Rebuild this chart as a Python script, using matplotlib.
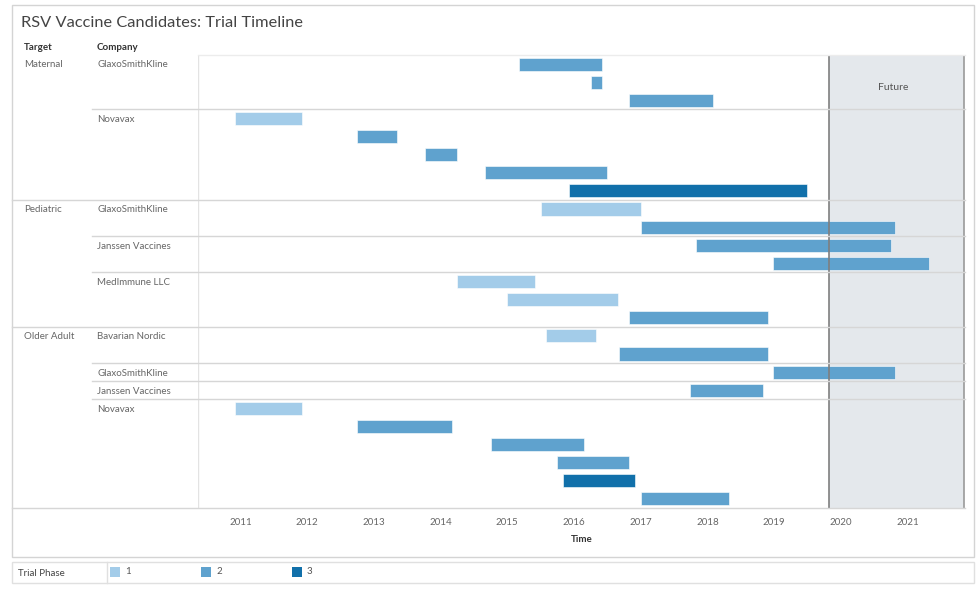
import matplotlib
matplotlib.use("Agg")
import matplotlib.pyplot as plt
from matplotlib.transforms import blended_transform_factory
from matplotlib.patches import Rectangle
from matplotlib.lines import Line2D

plt.rcParams['font.family'] = ['Lato', 'DejaVu Sans']

# ---- data ----
targets = ["Maternal"] * 8 + ["Pediatric"] * 7 + ["Older Adult"] * 10
companies = (["GlaxoSmithKline"] * 3 + ["Novavax"] * 5 +
             ["GlaxoSmithKline"] * 2 + ["Janssen Vaccines"] * 2 + ["MedImmune LLC"] * 3 +
             ["Bavarian Nordic"] * 2 + ["GlaxoSmithKline"] + ["Janssen Vaccines"] + ["Novavax"] * 6)
start_year = [2015.17, 2016.25, 2016.83,
              2010.92, 2012.75, 2013.76, 2014.67, 2015.92,
              2015.50, 2017.00,
              2017.83, 2018.99,
              2014.25, 2015.00, 2016.83,
              2015.58, 2016.67,
              2018.99,
              2017.74,
              2010.92, 2012.75, 2014.75, 2015.75, 2015.83, 2017.00]
end_year = [2016.42, 2016.42, 2018.08,
            2011.92, 2013.34, 2014.25, 2016.50, 2019.49,
            2017.00, 2020.82,
            2020.75, 2021.32,
            2015.42, 2016.66, 2018.91,
            2016.33, 2018.91,
            2020.82,
            2018.83,
            2011.92, 2014.17, 2016.15, 2016.83, 2016.91, 2018.32]
phase = [2, 2, 2,
         1, 2, 2, 2, 3,
         1, 2,
         2, 2,
         1, 1, 2,
         1, 2,
         2,
         2,
         1, 2, 2, 2, 3, 2]
year_ticks = list(range(2011, 2022))
future_start = 2019.83
future_end = 2021.85
phase_labels = ["1", "2", "3"]
phase_colors = {1: "#a3cce9", 2: "#5fa2ce", 3: "#1170aa"}

# ---- figure ----
W, H = 980, 599
fig = plt.figure(figsize=(W / 100, H / 100), dpi=100)

def fx(px):
    return px / W

def fy(py):
    return 1 - py / H

L, R, T, B = 198, 965, 55, 508
ax = fig.add_axes([fx(L), fy(B), fx(R) - fx(L), fy(T) - fy(B)])
n = len(start_year)
ax.set_ylim(n, 0)
x0 = 2011 + (L - 240.5) / 66.7
x1 = 2011 + (R - 240.5) / 66.7
ax.set_xlim(x0, x1)

# future region
ax.axvspan(future_start, future_end, color="#e4e8ec", zorder=0, lw=0)
ax.axvline(future_start, color="#7f7f7f", lw=1.2, zorder=3)
ax.axvline(future_end, color="#9a9a9a", lw=1.2, zorder=3)
ax.text((future_start + future_end) / 2 - 0.06, 1.82, "Future", ha="center", va="center",
        fontsize=7.5, color="#555555")

# bars
for i in range(n):
    ax.barh(i + 0.5, end_year[i] - start_year[i], left=start_year[i], height=0.72,
            color=phase_colors[phase[i]], edgecolor="white", linewidth=0.4, zorder=2)

for s in ax.spines.values():
    s.set_visible(False)
ax.set_yticks([])
ax.set_xticks(year_ticks)
ax.set_xticklabels([str(y) for y in year_ticks], fontsize=7, color="#666666")
ax.tick_params(axis="x", length=0, pad=7)
ax.set_xlabel("Time", fontsize=7, color="#333333", fontweight="bold", labelpad=6)

# left vertical line of pane
ax.axvline(x0, color="#e3e3e3", lw=1.0, zorder=1)

# row labels and separators
trans = blended_transform_factory(fig.transFigure, ax.transData)
prev_t, prev_c = None, None
for i in range(n):
    if targets[i] != prev_t:
        fig.text(fx(24), i + 0.55, targets[i], transform=trans, fontsize=7,
                 color="#666666", va="center", ha="left")
        if i > 0:
            fig.add_artist(Line2D([fx(12), fx(R)], [i, i], transform=trans,
                                  color="#d6d6d6", lw=1.0))
    if targets[i] != prev_t or companies[i] != prev_c:
        fig.text(fx(97), i + 0.55, companies[i], transform=trans, fontsize=7,
                 color="#666666", va="center", ha="left")
        if i > 0 and targets[i] == prev_t:
            fig.add_artist(Line2D([fx(92), fx(R)], [i, i], transform=trans,
                                  color="#d6d6d6", lw=1.0))
    prev_t, prev_c = targets[i], companies[i]

# top and bottom lines
fig.add_artist(Line2D([fx(L), fx(R)], [0, 0], transform=trans, color="#ececec", lw=1.0))
fig.add_artist(Line2D([fx(12), fx(R)], [n, n], transform=trans, color="#d6d6d6", lw=1.0))

# headers & title
fig.text(fx(21), fy(23), "RSV Vaccine Candidates: Trial Timeline", fontsize=11.8,
         color="#444444", va="center", ha="left")
fig.text(fx(24), fy(48), "Target", fontsize=7, color="#333333", fontweight="bold",
         va="center", ha="left")
fig.text(fx(97), fy(48), "Company", fontsize=7, color="#333333", fontweight="bold",
         va="center", ha="left")

# outer box
fig.add_artist(Rectangle((fx(12), fy(557)), fx(974) - fx(12), fy(5) - fy(557),
                         transform=fig.transFigure, fill=False, edgecolor="#d4d4d4", lw=1.0))

# legend strip
fig.add_artist(Rectangle((fx(12), fy(583)), fx(974) - fx(12), fy(562) - fy(583),
                         transform=fig.transFigure, fill=False, edgecolor="#e0e0e0", lw=1.0))
fig.add_artist(Line2D([fx(107), fx(107)], [fy(562), fy(583)], transform=fig.transFigure,
                      color="#e0e0e0", lw=1.0))
fig.text(fx(18), fy(573), "Trial Phase", fontsize=7, color="#444444", va="center", ha="left")
sw_x = [110, 201, 292]
for k, lab in enumerate(phase_labels):
    fig.add_artist(Rectangle((fx(sw_x[k]), fy(577)), fx(10), fy(0) - fy(10),
                             transform=fig.transFigure, color=phase_colors[k + 1], lw=0))
    fig.text(fx(sw_x[k] + 15), fy(572), lab, fontsize=7, color="#555555",
             va="center", ha="left")

fig.savefig("out.png", dpi=100)
